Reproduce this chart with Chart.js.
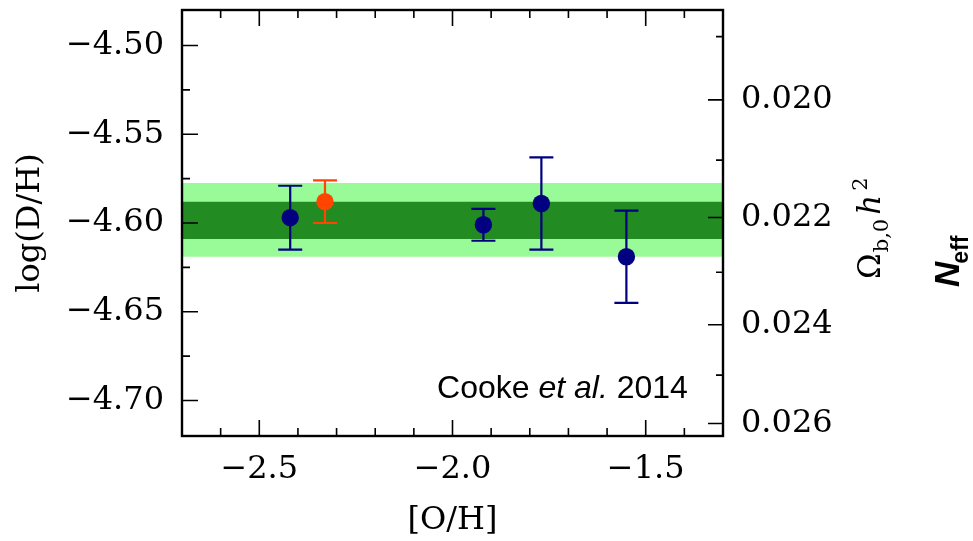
<!DOCTYPE html>
<html>
<head>
<meta charset="utf-8">
<script src="https://cdn.jsdelivr.net/npm/chart.js@4.4.1/dist/chart.umd.min.js"></script>
<style>
html, body { margin: 0; padding: 0; background: #fff; }
#wrap { width: 973px; height: 541px; }
</style>
</head>
<body>
<div id="wrap"><canvas id="dhChart" width="973" height="541"></canvas></div>
<script>
// D/H measurements vs metallicity
var ohValues = [-2.42, -1.92, -1.77, -1.55];
var dhValues = [-4.597, -4.601, -4.589, -4.619];
var dhErrors = [0.018, 0.009, 0.026, 0.026];

// the new system (orange)
var ohNew = [-2.33];
var dhNew = [-4.588];
var dhNewErrors = [0.012];

// mean value bands, [lower, upper]
var bandInner = [-4.609, -4.588];
var bandOuter = [-4.619, -4.5775];

// axes
var xRange = [-2.7, -1.3];
var yRange = [-4.72, -4.48];
var xTickValues = [-2.5, -2.0, -1.5];
var xTickLabels = ["\u22122.5", "\u22122.0", "\u22121.5"];
var xMinorValues = [-2.6, -2.4, -2.3, -2.2, -2.1, -1.9, -1.8, -1.7, -1.6, -1.4];
var yTickValues = [-4.70, -4.65, -4.60, -4.55, -4.50];
var yTickLabels = ["\u22124.70", "\u22124.65", "\u22124.60", "\u22124.55", "\u22124.50"];
var yMinorValues = [-4.675, -4.625, -4.575, -4.525];
var omegaTicks = [0.020, 0.022, 0.024, 0.026];
var omegaTickLabels = ["0.020", "0.022", "0.024", "0.026"];
var omegaMinor = [0.019, 0.021, 0.023, 0.025];

var noteX = -2.04;
var noteY = -4.6985;

// log(D/H) for a given Omega_b h^2 (right axis mapping)
function omegaToDH(w) {
	return -7.249 - 1.6 * Math.log10(w);
}

function xy(xs, ys) {
	var out = [];
	for (var i = 0; i < xs.length; ++i) out.push({x: xs[i], y: ys[i]});
	return out;
}

function flat(v) {
	return [{x: xRange[0], y: v}, {x: xRange[1], y: v}];
}

var serif = "'DejaVu Serif', serif";
var clear = "rgba(0,0,0,0)";

// error bars drawn under each point dataset
var errorBars = {
	id: "errorBars",
	beforeDatasetDraw: function(chart, args) {
		var ds = chart.data.datasets[args.index];
		if (!ds.errors) return;
		var ys = chart.scales.y;
		var ctx = chart.ctx;
		ctx.save();
		ctx.strokeStyle = ds.backgroundColor;
		ctx.lineWidth = 2.2;
		args.meta.data.forEach(function(pt, i) {
			var top = ys.getPixelForValue(ds.data[i].y + ds.errors[i]);
			var bot = ys.getPixelForValue(ds.data[i].y - ds.errors[i]);
			ctx.beginPath();
			ctx.moveTo(pt.x, top); ctx.lineTo(pt.x, bot);
			ctx.moveTo(pt.x - 12, top); ctx.lineTo(pt.x + 12, top);
			ctx.moveTo(pt.x - 12, bot); ctx.lineTo(pt.x + 12, bot);
			ctx.stroke();
		});
		ctx.restore();
	}
};

// box, inward ticks, note and the right-hand titles
var frameTicks = {
	id: "frameTicks",
	afterDatasetsDraw: function(chart) {
		var ctx = chart.ctx;
		var a = chart.chartArea;
		var xs = chart.scales.x, ys = chart.scales.y;
		ctx.save();
		ctx.strokeStyle = "#000";
		ctx.lineWidth = 1.6;
		ctx.beginPath();
		function xTick(v, len) {
			var p = xs.getPixelForValue(v);
			ctx.moveTo(p, a.bottom); ctx.lineTo(p, a.bottom - len);
			ctx.moveTo(p, a.top); ctx.lineTo(p, a.top + len);
		}
		function yTick(v, len) {
			var p = ys.getPixelForValue(v);
			ctx.moveTo(a.left, p); ctx.lineTo(a.left + len, p);
		}
		function rTick(w, len) {
			var p = ys.getPixelForValue(omegaToDH(w));
			ctx.moveTo(a.right, p); ctx.lineTo(a.right - len, p);
		}
		xTickValues.forEach(function(v) { xTick(v, 16); });
		xMinorValues.forEach(function(v) { xTick(v, 8); });
		yTickValues.forEach(function(v) { yTick(v, 16); });
		yMinorValues.forEach(function(v) { yTick(v, 8); });
		omegaTicks.forEach(function(w) { rTick(w, 15); });
		omegaMinor.forEach(function(w) { rTick(w, 7); });
		ctx.stroke();

		ctx.lineWidth = 2.4;
		ctx.strokeRect(a.left, a.top, a.right - a.left, a.bottom - a.top);

		// reference note
		ctx.fillStyle = "#000";
		ctx.textBaseline = "alphabetic";
		ctx.textAlign = "left";
		var nx = xs.getPixelForValue(noteX);
		var ny = ys.getPixelForValue(noteY);
		ctx.font = "32px 'Liberation Sans', Arial, sans-serif";
		ctx.fillText("Cooke ", nx, ny);
		nx += ctx.measureText("Cooke ").width;
		ctx.font = "italic 32px 'Liberation Sans', Arial, sans-serif";
		ctx.fillText("et al.", nx, ny);
		nx += ctx.measureText("et al.").width;
		ctx.font = "32px 'Liberation Sans', Arial, sans-serif";
		ctx.fillText(" 2014", nx, ny);

		// Omega_b,0 h^2
		ctx.save();
		ctx.translate(880, 279);
		ctx.rotate(-Math.PI / 2);
		var px = 0;
		ctx.font = "31px " + serif;
		ctx.fillText("\u03A9", px, 0);
		px += ctx.measureText("\u03A9").width + 1;
		ctx.font = "21px " + serif;
		ctx.fillText("b,0", px, 8);
		px += ctx.measureText("b,0").width + 4;
		ctx.font = "italic 31px " + serif;
		ctx.fillText("h", px, 0);
		px += ctx.measureText("h").width + 4;
		ctx.font = "21px " + serif;
		ctx.fillText("2", px, -13);
		ctx.restore();

		// N_eff
		ctx.save();
		ctx.translate(959, 287);
		ctx.rotate(-Math.PI / 2);
		ctx.font = "italic bold 35px 'Liberation Sans', Arial, sans-serif";
		ctx.fillText("N", 0, 0);
		var nw = ctx.measureText("N").width;
		ctx.font = "bold 23px 'Liberation Sans', Arial, sans-serif";
		ctx.fillText("eff", nw - 2, 9);
		ctx.restore();

		ctx.restore();
	}
};

var data = {
	datasets: [{
		type: "line", data: flat(bandInner[1]), fill: "+1", backgroundColor: "#228b22",
		borderColor: clear, borderWidth: 0, pointRadius: 0, order: 1
	}, {
		type: "line", data: flat(bandInner[0]), fill: false,
		borderColor: clear, borderWidth: 0, pointRadius: 0, order: 1
	}, {
		type: "line", data: flat(bandOuter[1]), fill: "+1", backgroundColor: "#98fb98",
		borderColor: clear, borderWidth: 0, pointRadius: 0, order: 2
	}, {
		type: "line", data: flat(bandOuter[0]), fill: false,
		borderColor: clear, borderWidth: 0, pointRadius: 0, order: 2
	}, {
		type: "scatter", data: xy(ohValues, dhValues), errors: dhErrors,
		backgroundColor: "#000080", borderColor: "#000080", borderWidth: 0, pointRadius: 8.7, order: 0
	}, {
		type: "scatter", data: xy(ohNew, dhNew), errors: dhNewErrors,
		backgroundColor: "#ff4500", borderColor: "#ff4500", borderWidth: 0, pointRadius: 8.7, order: 0
	}]
};

var tickFont = {family: serif, size: 32};

var config = {
	type: "scatter",
	data: data,
	plugins: [errorBars, frameTicks],
	options: {
		responsive: false,
		animation: false,
		layout: {padding: {top: 10, left: 0, right: 0, bottom: 0}},
		plugins: {legend: {display: false}, tooltip: {enabled: false}},
		scales: {
			x: {
				type: "linear", position: "bottom", min: xRange[0], max: xRange[1],
				grid: {display: false, drawTicks: false}, border: {display: false},
				afterBuildTicks: function(s) { s.ticks = xTickValues.map(function(v) { return {value: v}; }); },
				afterFit: function(s) { s.height = 105; s.paddingLeft = 0; s.paddingRight = 0; },
				ticks: {
					font: tickFont, color: "#000", padding: 14, autoSkip: false, maxRotation: 0,
					callback: function(v, i) { return xTickLabels[i]; }
				},
				title: {display: true, text: "[O/H]", font: tickFont, color: "#000", padding: {top: 0, bottom: 1}}
			},
			y: {
				type: "linear", position: "left", min: yRange[0], max: yRange[1],
				grid: {display: false, drawTicks: false}, border: {display: false},
				afterBuildTicks: function(s) { s.ticks = yTickValues.map(function(v) { return {value: v}; }); },
				afterFit: function(s) { s.width = 182; s.paddingTop = 0; s.paddingBottom = 0; },
				ticks: {
					font: tickFont, color: "#000", padding: 18, autoSkip: false,
					callback: function(v, i) { return yTickLabels[i]; }
				},
				title: {display: true, text: "log(D/H)", font: tickFont, color: "#000", padding: {top: 11, bottom: 0}}
			},
			y2: {
				type: "linear", position: "right", min: yRange[0], max: yRange[1],
				grid: {display: false, drawTicks: false}, border: {display: false},
				afterBuildTicks: function(s) { s.ticks = omegaTicks.map(function(w) { return {value: omegaToDH(w)}; }); },
				afterFit: function(s) { s.width = 250; s.paddingTop = 0; s.paddingBottom = 0; },
				ticks: {
					font: tickFont, color: "#000", padding: 18, autoSkip: false,
					callback: function(v, i) { return omegaTickLabels[i]; }
				}
			}
		}
	}
};

var dhChart = new Chart(document.getElementById("dhChart"), config);
</script>
</body>
</html>
